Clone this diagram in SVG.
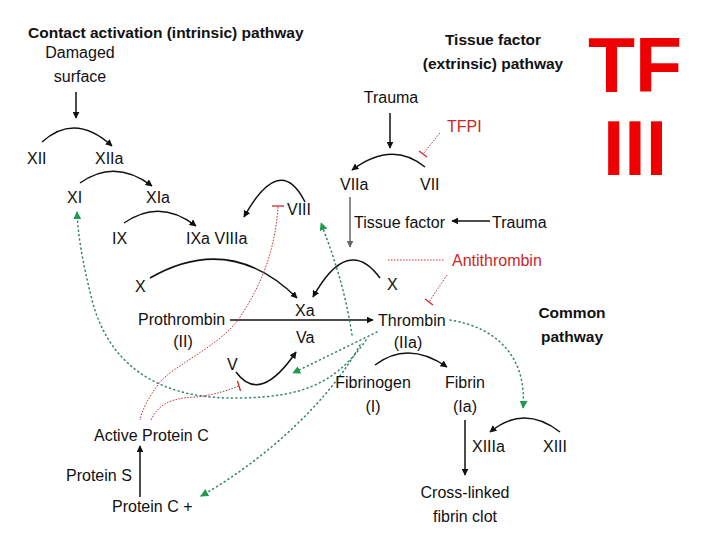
<svg xmlns="http://www.w3.org/2000/svg" width="720" height="540" viewBox="0 0 720 540">
<defs>
<marker id="ah" viewBox="0 0 10 10" refX="9" refY="5" markerWidth="7" markerHeight="7" orient="auto" markerUnits="userSpaceOnUse"><path d="M0,0 L10,5 L0,10 Z" fill="#111"/></marker>
<marker id="ahg" viewBox="0 0 10 10" refX="9" refY="5" markerWidth="7" markerHeight="7" orient="auto" markerUnits="userSpaceOnUse"><path d="M0,0 L10,5 L0,10 Z" fill="#666"/></marker>
<marker id="gh" viewBox="0 0 10 10" refX="9" refY="5" markerWidth="8" markerHeight="8" orient="auto" markerUnits="userSpaceOnUse"><path d="M0,0 L10,5 L0,10 Z" fill="#1f9b50"/></marker>
</defs>
<style>
text{font-family:"Liberation Sans","DejaVu Sans",sans-serif;fill:#111;font-size:16px}
.b{font-weight:bold;font-size:15.5px}
.r{fill:#c8282a}
.big{fill:#ee0000;font-weight:bold;font-size:77px}
.c{text-anchor:middle}
.k{fill:none;stroke:#111;stroke-width:1.5;marker-end:url(#ah)}
.gray{fill:none;stroke:#666;stroke-width:1.5;marker-end:url(#ahg)}
.gd{fill:none;stroke:#2f7f6f;stroke-width:1.5;stroke-dasharray:1 3.5;stroke-linecap:round;marker-end:url(#gh)}
.rd{fill:none;stroke:#c8282a;stroke-width:1;stroke-dasharray:1.5 1.5}
.bar{stroke:#c8282a;stroke-width:1.3}
</style>
<rect width="720" height="540" fill="#fff"/>
<g id="connectors">
<path class="k" d="M76,92 L76,118"/>
<path class="k" d="M42,142 Q75,112 112,146"/>
<path class="k" d="M80,183 Q115,158 152,186"/>
<path class="k" d="M124,223 Q160,198 196,226"/>
<path class="k" d="M150,278 Q230,232 297,298"/>
<path class="k" d="M230,320 L373,320"/>
<path class="k" d="M236,372 Q260,405 296,352"/>
<path class="k" d="M305,202 Q280,152 244,217"/>
<path class="k" d="M425,167 Q392,140 352,170"/>
<path class="k" d="M390,113 L390,148"/>
<path class="gray" d="M350,197 L350,247"/>
<path class="k" d="M490,221 L452,221"/>
<path class="k" d="M380,278 Q348,234 313,297"/>
<path class="k" d="M375,365 Q408,340 447,367"/>
<path class="k" d="M465,420 L465,475"/>
<path class="k" d="M560,432 Q524,404 490,432"/>
<path class="k" d="M140,497 L140,446"/>
<path class="gd" d="M352,335 C345,290 335,260 321,223"/>
<path class="gd" d="M377,332 L293,373"/>
<path class="gd" d="M366,340 C335,385 300,397 240,398 C165,400 110,370 92,300 C82,260 78,235 77,212"/>
<path class="gd" d="M360,345 C330,400 265,460 201,496"/>
<path class="gd" d="M450,320 C500,328 527,360 523,408"/>
<path class="rd" d="M278,207 C275,250 262,285 238,320 C220,345 175,365 160,382 C148,398 142,410 140,420"/>
<line class="bar" x1="272" y1="206" x2="284" y2="206"/>
<path class="rd" d="M151,420 C158,405 170,398 195,397 C215,395 228,390 239,386"/>
<line class="bar" x1="237.5" y1="381" x2="240.5" y2="391"/>
<path class="rd" d="M440,133 L423,154"/>
<line class="bar" x1="419" y1="151" x2="427" y2="157"/>
<path class="rd" d="M388,260 L445,260"/>
<path class="rd" d="M447,275 L429,302"/>
<line class="bar" x1="425" y1="299" x2="433" y2="305"/>
</g>
<g id="title-intrinsic"><text class="b" x="28" y="38">Contact activation (intrinsic) pathway</text></g>
<g id="damaged-surface"><text class="c" x="80" y="58">Damaged</text><text class="c" x="80" y="82">surface</text></g>
<g id="XII"><text x="27" y="164">XII</text></g>
<g id="XIIa"><text x="95" y="164">XIIa</text></g>
<g id="XI"><text x="67" y="203">XI</text></g>
<g id="XIa"><text x="146" y="203">XIa</text></g>
<g id="IX"><text x="112" y="244">IX</text></g>
<g id="IXa-VIIIa"><text x="186" y="244">IXa VIIIa</text></g>
<g id="VIII"><text x="287" y="215">VIII</text></g>
<g id="X-left"><text x="135" y="292">X</text></g>
<g id="Xa"><text x="295" y="316">Xa</text></g>
<g id="Va"><text x="296" y="343">Va</text></g>
<g id="V"><text x="227" y="370">V</text></g>
<g id="prothrombin"><text x="138" y="325">Prothrombin</text><text class="c" x="183" y="347">(II)</text></g>
<g id="title-extrinsic"><text class="b c" x="493" y="45">Tissue factor</text><text class="b c" x="493" y="69">(extrinsic) pathway</text></g>
<g id="TF-III"><text class="big c" x="635" y="92">TF</text><text class="big c" x="635" y="175">III</text></g>
<g id="trauma-top"><text class="c" x="391" y="103">Trauma</text></g>
<g id="TFPI"><text class="r" x="447" y="132">TFPI</text></g>
<g id="VIIa"><text x="340" y="190">VIIa</text></g>
<g id="VII"><text x="420" y="190">VII</text></g>
<g id="tissue-factor"><text x="354" y="228">Tissue factor</text></g>
<g id="trauma-right"><text x="492" y="228">Trauma</text></g>
<g id="X-right"><text x="387" y="290">X</text></g>
<g id="antithrombin"><text class="r" x="452" y="266">Antithrombin</text></g>
<g id="thrombin"><text x="378" y="326">Thrombin</text><text class="c" x="408" y="348">(IIa)</text></g>
<g id="common-pathway"><text class="b c" x="572" y="318">Common</text><text class="b c" x="572" y="342">pathway</text></g>
<g id="fibrinogen"><text class="c" x="373" y="388">Fibrinogen</text><text class="c" x="373" y="412">(I)</text></g>
<g id="fibrin"><text class="c" x="465" y="388">Fibrin</text><text class="c" x="465" y="412">(Ia)</text></g>
<g id="XIIIa"><text x="472" y="452">XIIIa</text></g>
<g id="XIII"><text x="543" y="452">XIII</text></g>
<g id="clot"><text class="c" x="465" y="498">Cross-linked</text><text class="c" x="465" y="522">fibrin clot</text></g>
<g id="active-protein-c"><text x="94" y="441">Active Protein C</text></g>
<g id="protein-s"><text x="66" y="481">Protein S</text></g>
<g id="protein-c"><text x="112" y="512">Protein C +</text></g>
</svg>
